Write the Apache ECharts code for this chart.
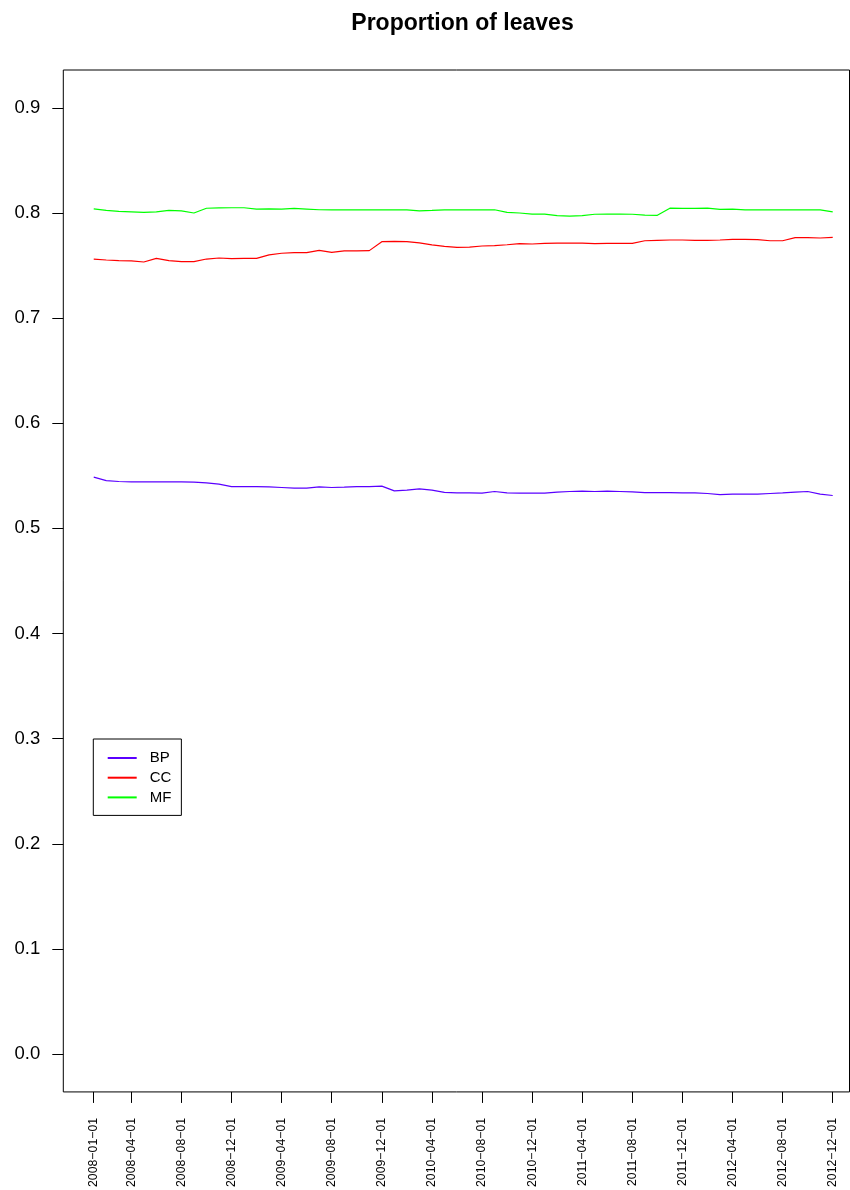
<!DOCTYPE html>
<html>
<head>
<meta charset="utf-8">
<script src="https://cdn.jsdelivr.net/npm/echarts@6/dist/echarts.min.js"></script>
<style>
html,body{margin:0;padding:0;background:#fff;}
#chart{width:850px;height:1190px;}
</style>
</head>
<body>
<div id="chart"></div>
<script>
const dates = [
"2008-01-01","2008-02-01","2008-03-01","2008-04-01","2008-05-01","2008-06-01","2008-07-01","2008-08-01","2008-09-01","2008-10-01","2008-11-01","2008-12-01",
"2009-01-01","2009-02-01","2009-03-01","2009-04-01","2009-05-01","2009-06-01","2009-07-01","2009-08-01","2009-09-01","2009-10-01","2009-11-01","2009-12-01",
"2010-01-01","2010-02-01","2010-03-01","2010-04-01","2010-05-01","2010-06-01","2010-07-01","2010-08-01","2010-09-01","2010-10-01","2010-11-01","2010-12-01",
"2011-01-01","2011-02-01","2011-03-01","2011-04-01","2011-05-01","2011-06-01","2011-07-01","2011-08-01","2011-09-01","2011-10-01","2011-11-01","2011-12-01",
"2012-01-01","2012-02-01","2012-03-01","2012-04-01","2012-05-01","2012-06-01","2012-07-01","2012-08-01","2012-09-01","2012-10-01","2012-11-01","2012-12-01"
];
const tickDates = ["2008-01-01","2008-04-01","2008-08-01","2008-12-01","2009-04-01","2009-08-01","2009-12-01","2010-04-01","2010-08-01","2010-12-01","2011-04-01","2011-08-01","2011-12-01","2012-04-01","2012-08-01","2012-12-01"];
const yTicks = [0.0,0.1,0.2,0.3,0.4,0.5,0.6,0.7,0.8,0.9];

const BP = [0.5487,0.5455,0.5446,0.5443,0.5443,0.5443,0.5443,0.5443,0.5440,0.5433,
0.5421,0.5398,0.5398,0.5398,0.5395,0.5389,0.5383,0.5383,0.5395,0.5389,
0.5392,0.5398,0.5398,0.5402,0.5357,0.5364,0.5376,0.5364,0.5342,0.5338,
0.5338,0.5335,0.5351,0.5338,0.5335,0.5335,0.5335,0.5345,0.5351,0.5354,
0.5351,0.5354,0.5351,0.5348,0.5341,0.5341,0.5341,0.5338,0.5338,0.5332,
0.5322,0.5326,0.5326,0.5326,0.5332,0.5338,0.5345,0.5351,0.5326,0.5313];
const CC = [0.7562,0.7553,0.7547,0.7544,0.7534,0.7569,0.7547,0.7537,0.7537,0.7562,
0.7572,0.7566,0.7569,0.7569,0.7601,0.7617,0.7623,0.7623,0.7645,0.7626,
0.7639,0.7639,0.7642,0.7727,0.7730,0.7727,0.7715,0.7696,0.7683,0.7673,
0.7676,0.7686,0.7689,0.7698,0.7708,0.7705,0.7711,0.7714,0.7714,0.7714,
0.7708,0.7711,0.7711,0.7711,0.7736,0.7740,0.7743,0.7743,0.7740,0.7740,
0.7743,0.7749,0.7749,0.7746,0.7736,0.7736,0.7765,0.7765,0.7762,0.7768];
const MF = [0.8040,0.8025,0.8015,0.8010,0.8005,0.8010,0.8025,0.8020,0.8000,0.8045,
0.8048,0.8050,0.8050,0.8037,0.8040,0.8037,0.8043,0.8037,0.8031,0.8030,
0.8030,0.8030,0.8030,0.8030,0.8030,0.8030,0.8021,0.8025,0.8030,0.8030,
0.8030,0.8030,0.8031,0.8005,0.8000,0.7990,0.7990,0.7975,0.7970,0.7975,
0.7988,0.7990,0.7990,0.7988,0.7980,0.7978,0.8046,0.8043,0.8043,0.8046,
0.8034,0.8037,0.8030,0.8030,0.8030,0.8030,0.8030,0.8030,0.8030,0.8010];

const seriesNames = ["BP","CC","MF"];
const seriesColors = ["#5a00ff","#ff0000","#00ff00"];
const seriesValues = [BP, CC, MF];

const tickIdx = tickDates.map(d => dates.indexOf(d));
const FONT = '"Liberation Sans", Arial, Helvetica, sans-serif';

const chart = echarts.init(document.getElementById('chart'), null, {renderer:'canvas'});
chart.setOption({
  animation: false,
  backgroundColor: '#ffffff',
  title: {
    text: 'Proportion of leaves',
    left: 457.5, top: 7, textAlign: 'center',
    textStyle: {fontFamily: FONT, fontSize: 23, fontWeight: 'bold', color: '#000'}
  },
  legend: {
    orient: 'vertical',
    left: 93.3, top: 739,
    padding: [11.5, 10, 10.5, 13.4],
    itemWidth: 29, itemHeight: 14, itemGap: 4.7,
    borderColor: '#000', borderWidth: 1, borderRadius: 0,
    backgroundColor: '#fff',
    itemStyle: {opacity: 0},
    textStyle: {fontFamily: FONT, fontSize: 15, color: '#000', padding: [0,0,0,8]},
    data: seriesNames
  },
  grid: {
    left: 63.3, top: 70, right: 0.5, bottom: 98,
    show: true, borderColor: '#000', borderWidth: 1, backgroundColor: 'transparent',
    containLabel: false
  },
  xAxis: {
    type: 'value',
    min: -2.43, max: 60.34,
    axisLine: {show: false, onZero: false},
    splitLine: {show: false},
    axisTick: {show: true, length: 11, customValues: tickIdx, lineStyle: {color: '#000', width: 1}},
    axisLabel: {
      show: true, customValues: tickIdx, rotate: 90, margin: 26,
      fontFamily: FONT, fontSize: 12.3, color: '#000',
      formatter: v => dates[Math.round(v)].replace(/-/g, '\u2212')
    }
  },
  yAxis: {
    type: 'value',
    min: -0.036, max: 0.936,
    axisLine: {show: false, onZero: false},
    splitLine: {show: false},
    axisTick: {show: true, length: 11, customValues: yTicks, lineStyle: {color: '#000', width: 1}},
    axisLabel: {
      show: true, customValues: yTicks, margin: 23,
      fontFamily: FONT, fontSize: 18.5, color: '#000',
      formatter: v => v.toFixed(1)
    }
  },
  series: seriesNames.map((name, k) => ({
    name: name,
    type: 'line',
    symbol: 'none',
    color: seriesColors[k],
    lineStyle: {color: seriesColors[k], width: 1.2},
    data: seriesValues[k].map((v, i) => [i, v])
  }))
});
</script>
</body>
</html>
